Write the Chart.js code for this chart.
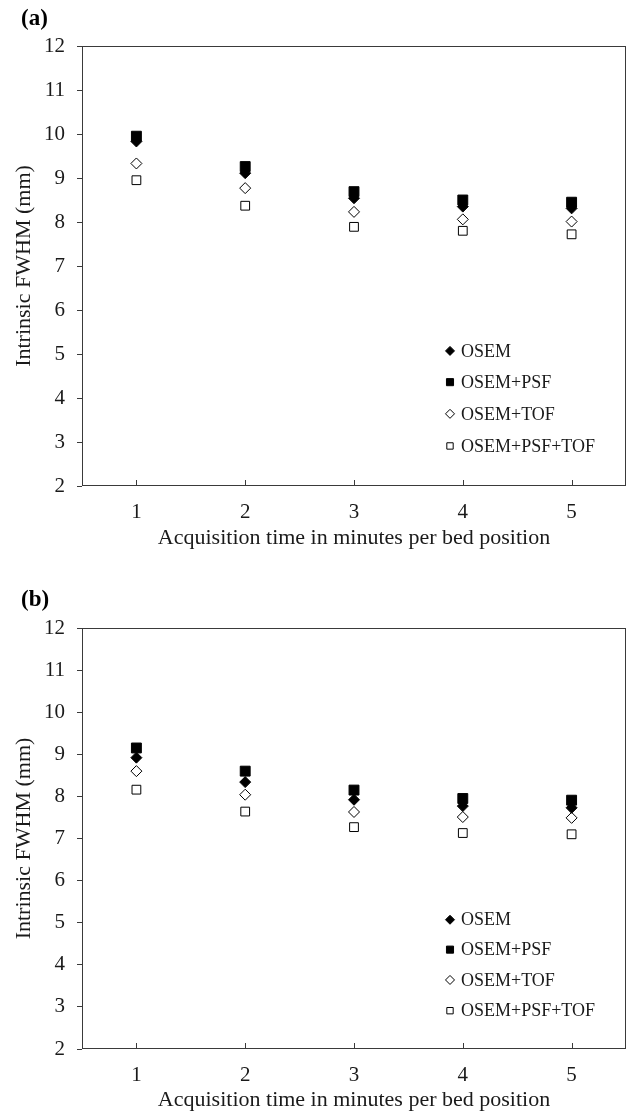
<!DOCTYPE html>
<html lang="en">
<head>
<meta charset="UTF-8">
<title>Intrinsic FWHM vs acquisition time</title>
<script src="https://cdn.jsdelivr.net/npm/chart.js@4"></script>
<style>
  body { margin: 0; background: #fff; }
  .panel { position: relative; width: 634px; }
  #panelA { height: 560px; }
  #panelB { height: 556px; }
  canvas { display: block; }
</style>
</head>
<body>
<div class="panel" id="panelA"><canvas id="chartA"></canvas></div>
<div class="panel" id="panelB"><canvas id="chartB"></canvas></div>
<script>
// acquisition time (min per bed position)
const minutes = ['1', '2', '3', '4', '5'];
const seriesNames = ['OSEM', 'OSEM+PSF', 'OSEM+TOF', 'OSEM+PSF+TOF'];
const yMin = 2, yMax = 12, yStep = 1;

// panel (a)
const osemA       = [9.83, 9.11, 8.54, 8.35, 8.31];
const osemPsfA    = [9.95, 9.26, 8.69, 8.50, 8.45];
const osemTofA    = [9.33, 8.77, 8.23, 8.06, 8.01];
const osemPsfTofA = [8.95, 8.37, 7.89, 7.80, 7.72];

// panel (b)
const osemB       = [8.92, 8.34, 7.92, 7.77, 7.73];
const osemPsfB    = [9.15, 8.60, 8.15, 7.95, 7.91];
const osemTofB    = [8.60, 8.04, 7.63, 7.51, 7.49];
const osemPsfTofB = [8.16, 7.64, 7.27, 7.13, 7.10];

// marker look per series (filled diamond, filled square, open diamond, open square)
const markers = [
  { style: 'rectRot', radius: 5.5, fill: '#000', legendRadius: 4.5 },
  { style: 'rect',    radius: 7,   fill: '#000', legendRadius: 5 },
  { style: 'rectRot', radius: 5.5, fill: '#fff', legendRadius: 4.5 },
  { style: 'rect',    radius: 6.2, fill: '#fff', legendRadius: 4.5 }
];
const legendRows = [0.307, 0.236, 0.164, 0.091];

const SERIF = '"Liberation Serif", "Times New Roman", serif';
const INK = '#1a1a1a';
const LINE = '#3a3a3a';
Chart.defaults.font.family = SERIF;
Chart.defaults.color = INK;

// box around the plot, inward x ticks, legend inside the plot, panel tag
const decor = {
  id: 'decor',
  afterDraw(chart, args, opts) {
    const { ctx, chartArea: a, scales: { x } } = chart;
    ctx.save();
    ctx.strokeStyle = LINE;
    ctx.lineWidth = 1;
    ctx.strokeRect(Math.round(a.left) + 0.5, Math.round(a.top) + 0.5,
                   Math.round(a.width) - 1, Math.round(a.height) - 1);
    ctx.beginPath();
    x.ticks.forEach((t, i) => {
      const px = Math.round(x.getPixelForTick(i)) + 0.5;
      ctx.moveTo(px, a.bottom);
      ctx.lineTo(px, a.bottom - 6);
    });
    ctx.stroke();

    ctx.font = '18px ' + SERIF;
    ctx.textBaseline = 'middle';
    ctx.textAlign = 'left';
    chart.data.datasets.forEach((ds, i) => {
      const m = markers[i];
      const yy = a.bottom - a.height * legendRows[i];
      const xx = a.left + 368;
      ctx.fillStyle = m.fill;
      ctx.strokeStyle = '#000';
      ctx.lineWidth = 1;
      Chart.helpers.drawPoint(ctx, { pointStyle: m.style, radius: m.legendRadius, borderWidth: 1, rotation: 0 }, xx, yy);
      ctx.fillStyle = INK;
      ctx.fillText(ds.label, xx + 11, yy + 1);
    });

    ctx.font = 'bold 23px ' + SERIF;
    ctx.fillStyle = '#000';
    ctx.fillText(opts.tag, 21, opts.tagY);
    ctx.restore();
  }
};

function makeChart(id, tag, tagY, series, topPad, xAxisH, titleBottom) {
  return new Chart(document.getElementById(id), {
    type: 'line',
    data: {
      labels: minutes,
      datasets: series.map((vals, i) => ({
        label: seriesNames[i],
        data: vals,
        showLine: false,
        pointStyle: markers[i].style,
        pointRadius: markers[i].radius,
        pointHoverRadius: markers[i].radius,
        pointBackgroundColor: markers[i].fill,
        pointBorderColor: '#000',
        pointBorderWidth: 1,
        borderColor: '#000',
        backgroundColor: markers[i].fill
      }))
    },
    options: {
      responsive: true,
      maintainAspectRatio: false,
      animation: false,
      events: [],
      layout: { padding: { top: topPad, right: 4, left: 0, bottom: 0 } },
      plugins: {
        legend: { display: false },
        tooltip: { enabled: false },
        decor: { tag: tag, tagY: tagY }
      },
      scales: {
        x: {
          offset: true,
          grid: { display: false, drawTicks: false },
          border: { display: false },
          ticks: { padding: 14, font: { size: 21 }, color: INK, maxRotation: 0 },
          title: {
            display: true,
            text: 'Acquisition time in minutes per bed position',
            font: { size: 22 },
            color: INK,
            padding: { top: 0, bottom: titleBottom }
          },
          afterFit: s => { s.height = xAxisH; }
        },
        y: {
          min: yMin,
          max: yMax,
          ticks: { stepSize: yStep, padding: 12, font: { size: 21 }, color: INK },
          grid: { drawOnChartArea: false, tickLength: 5, color: LINE },
          border: { display: false },
          title: {
            display: true,
            text: 'Intrinsic FWHM (mm)',
            font: { size: 22 },
            color: INK,
            padding: { top: 11, bottom: 0 }
          },
          afterFit: s => { s.width = 82; }
        }
      }
    },
    plugins: [decor]
  });
}

makeChart('chartA', '(a)', 19, [osemA, osemPsfA, osemTofA, osemPsfTofA], 46, 74, 9);
makeChart('chartB', '(b)', 40, [osemB, osemPsfB, osemTofB, osemPsfTofB], 68, 67, 3);
</script>
</body>
</html>
